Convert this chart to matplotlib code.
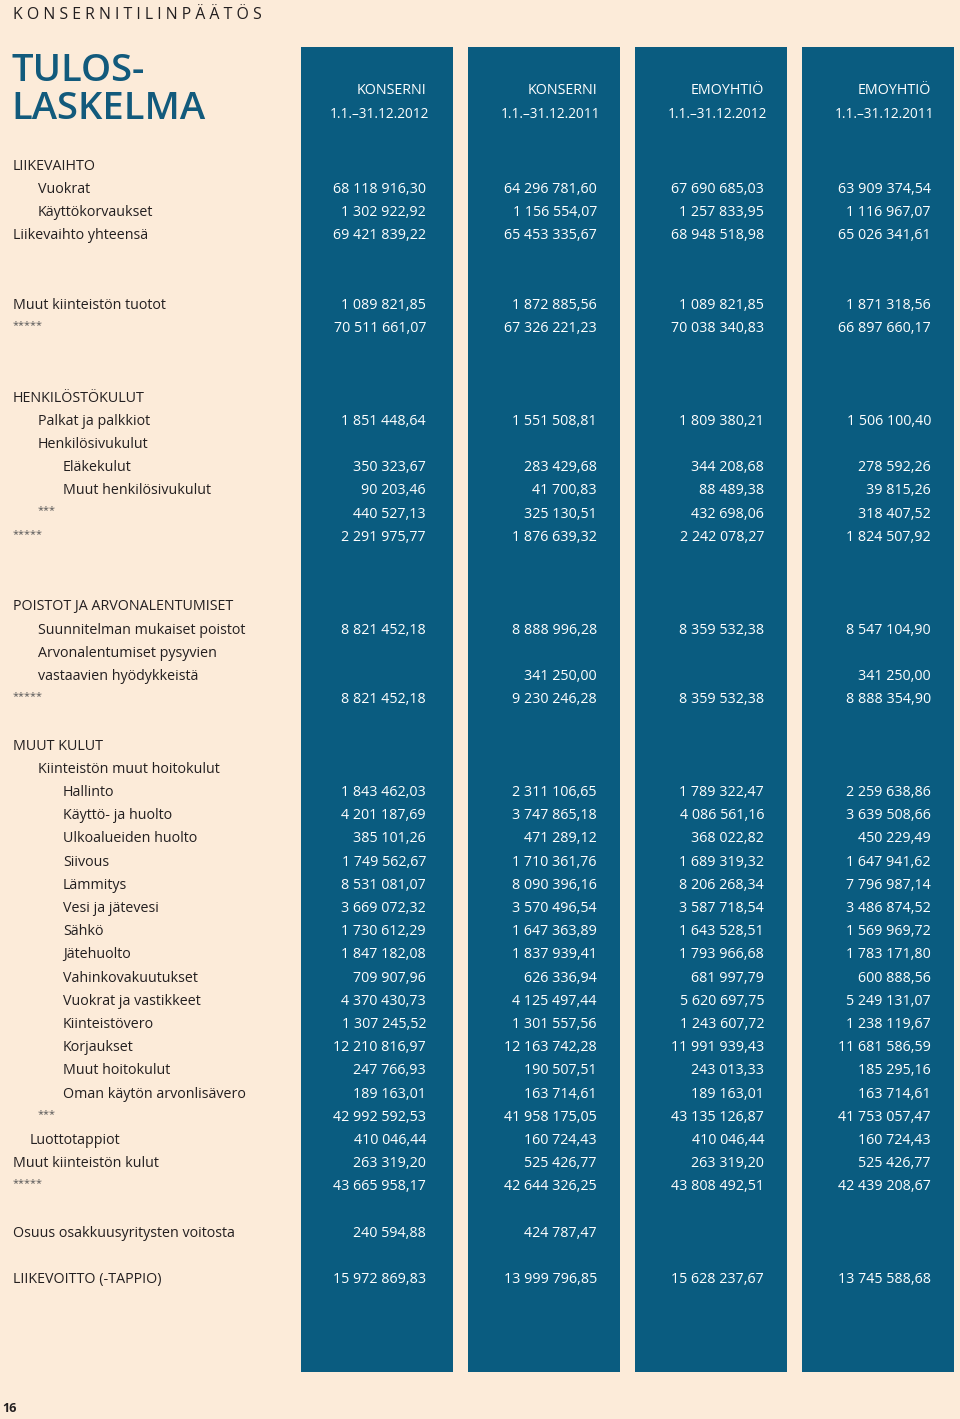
import matplotlib.pyplot as plt

BG = "#fcebd9"
BOX = "#0a5c80"
INK = "#231f20"
TEAL = "#125a7c"

COLUMN_HEADS = ["KONSERNI", "KONSERNI", "EMOYHTIÖ", "EMOYHTIÖ"]
PERIODS = ["1.1.–31.12.2012", "1.1.–31.12.2011", "1.1.–31.12.2012", "1.1.–31.12.2011"]

# (label, indent level) — None is an empty row
LABELS = [
    ("LIIKEVAIHTO", 0), ("Vuokrat", 1), ("Käyttökorvaukset", 1),
    ("Liikevaihto yhteensä", 0), None, None,
    ("Muut kiinteistön tuotot", 0), ("*****", 0), None, None,
    ("HENKILÖSTÖKULUT", 0), ("Palkat ja palkkiot", 1), ("Henkilösivukulut", 1),
    ("Eläkekulut", 2), ("Muut henkilösivukulut", 2), ("***", 1), ("*****", 0),
    None, None,
    ("POISTOT JA ARVONALENTUMISET", 0), ("Suunnitelman mukaiset poistot", 1),
    ("Arvonalentumiset pysyvien", 1), ("vastaavien hyödykkeistä", 1),
    ("*****", 0), None,
    ("MUUT KULUT", 0), ("Kiinteistön muut hoitokulut", 1),
    ("Hallinto", 2), ("Käyttö- ja huolto", 2), ("Ulkoalueiden huolto", 2),
    ("Siivous", 2), ("Lämmitys", 2), ("Vesi ja jätevesi", 2), ("Sähkö", 2),
    ("Jätehuolto", 2), ("Vahinkovakuutukset", 2), ("Vuokrat ja vastikkeet", 2),
    ("Kiinteistövero", 2), ("Korjaukset", 2), ("Muut hoitokulut", 2),
    ("Oman käytön arvonlisävero", 2), ("***", 1), ("Luottotappiot", 0.65),
    ("Muut kiinteistön kulut", 0), ("*****", 0), None,
    ("Osuus osakkuusyritysten voitosta", 0), None,
    ("LIIKEVOITTO (-TAPPIO)", 0),
]

KONSERNI_2012 = [
    "", "68 118 916,30", "1 302 922,92", "69 421 839,22", "", "",
    "1 089 821,85", "70 511 661,07", "", "",
    "", "1 851 448,64", "", "350 323,67", "90 203,46", "440 527,13", "2 291 975,77",
    "", "",
    "", "8 821 452,18", "", "", "8 821 452,18", "",
    "", "", "1 843 462,03", "4 201 187,69", "385 101,26", "1 749 562,67",
    "8 531 081,07", "3 669 072,32", "1 730 612,29", "1 847 182,08", "709 907,96",
    "4 370 430,73", "1 307 245,52", "12 210 816,97", "247 766,93", "189 163,01",
    "42 992 592,53", "410 046,44", "263 319,20", "43 665 958,17", "",
    "240 594,88", "", "15 972 869,83",
]
KONSERNI_2011 = [
    "", "64 296 781,60", "1 156 554,07", "65 453 335,67", "", "",
    "1 872 885,56", "67 326 221,23", "", "",
    "", "1 551 508,81", "", "283 429,68", "41 700,83", "325 130,51", "1 876 639,32",
    "", "",
    "", "8 888 996,28", "", "341 250,00", "9 230 246,28", "",
    "", "", "2 311 106,65", "3 747 865,18", "471 289,12", "1 710 361,76",
    "8 090 396,16", "3 570 496,54", "1 647 363,89", "1 837 939,41", "626 336,94",
    "4 125 497,44", "1 301 557,56", "12 163 742,28", "190 507,51", "163 714,61",
    "41 958 175,05", "160 724,43", "525 426,77", "42 644 326,25", "",
    "424 787,47", "", "13 999 796,85",
]
EMO_2012 = [
    "", "67 690 685,03", "1 257 833,95", "68 948 518,98", "", "",
    "1 089 821,85", "70 038 340,83", "", "",
    "", "1 809 380,21", "", "344 208,68", "88 489,38", "432 698,06", "2 242 078,27",
    "", "",
    "", "8 359 532,38", "", "", "8 359 532,38", "",
    "", "", "1 789 322,47", "4 086 561,16", "368 022,82", "1 689 319,32",
    "8 206 268,34", "3 587 718,54", "1 643 528,51", "1 793 966,68", "681 997,79",
    "5 620 697,75", "1 243 607,72", "11 991 939,43", "243 013,33", "189 163,01",
    "43 135 126,87", "410 046,44", "263 319,20", "43 808 492,51", "",
    "", "", "15 628 237,67",
]
EMO_2011 = [
    "", "63 909 374,54", "1 116 967,07", "65 026 341,61", "", "",
    "1 871 318,56", "66 897 660,17", "", "",
    "", "1 506 100,40", "", "278 592,26", "39 815,26", "318 407,52", "1 824 507,92",
    "", "",
    "", "8 547 104,90", "", "341 250,00", "8 888 354,90", "",
    "", "", "2 259 638,86", "3 639 508,66", "450 229,49", "1 647 941,62",
    "7 796 987,14", "3 486 874,52", "1 569 969,72", "1 783 171,80", "600 888,56",
    "5 249 131,07", "1 238 119,67", "11 681 586,59", "185 295,16", "163 714,61",
    "41 753 057,47", "160 724,43", "525 426,77", "42 439 208,67", "",
    "", "", "13 745 588,68",
]
COLUMNS = [KONSERNI_2012, KONSERNI_2011, EMO_2012, EMO_2011]

# layout in pixels
W, H = 960, 1419
ROW0, ROW_STEP = 166, 23.2
BOX_LEFT = [301, 468, 635, 802]
BOX_W = 152
BOX_TOP, BOX_BOTTOM = 47, 1372
NUM_RIGHT = [426, 597, 764, 931]
INDENT = 25
FONT = ["Open Sans", "DejaVu Sans"]
FS = 10.3
WEIGHT = 500

fig = plt.figure(figsize=(W / 100, H / 100), dpi=100, facecolor=BG)
ax = fig.add_axes([0, 0, 1, 1])
ax.set_xlim(0, W)
ax.set_ylim(H, 0)
ax.axis("off")

ax.bar([x + BOX_W / 2 for x in BOX_LEFT], BOX_BOTTOM - BOX_TOP,
       bottom=BOX_TOP, width=BOX_W, color=BOX, zorder=1)

ax.text(13, 15, " ".join("KONSERNITILINPÄÄTÖS"), fontsize=11.4,
        family=FONT, color=INK, va="center", ha="left", fontweight=WEIGHT)
ax.text(11, 90, "TULOS-\nLASKELMA", fontsize=27.5, family=FONT, color=TEAL,
        va="center", ha="left", linespacing=1.02, fontweight="semibold")

for head, period, xr in zip(COLUMN_HEADS, PERIODS, NUM_RIGHT):
    ax.text(xr, 91, head, fontsize=FS, family=FONT, color="white",
            ha="right", va="center", zorder=3, fontweight=WEIGHT)
    ax.text(xr + 3, 114, period, fontsize=FS - 0.5, family=FONT, color="white",
            ha="right", va="center", zorder=3, fontweight=WEIGHT)

for i, row in enumerate(LABELS):
    if row is None:
        continue
    label, level = row
    y = ROW0 + i * ROW_STEP
    if label.startswith("*"):
        ax.text(13 + level * INDENT, y - 3, label, fontsize=7.8, family=FONT,
                color="#555555", ha="left", va="center")
    else:
        ax.text(13 + level * INDENT, y, label, fontsize=FS, family=FONT,
                color=INK, ha="left", va="center", fontweight=WEIGHT)
    for col, xr in zip(COLUMNS, NUM_RIGHT):
        if col[i]:
            ax.text(xr, y, col[i], fontsize=FS, family=FONT, color="white",
                    ha="right", va="center", zorder=3, fontweight=WEIGHT)

ax.text(2, 1409, "16", fontsize=9, family=FONT, color=INK, ha="left",
        va="center", fontweight="bold")

fig.savefig("out.png", dpi=100, facecolor=BG)
